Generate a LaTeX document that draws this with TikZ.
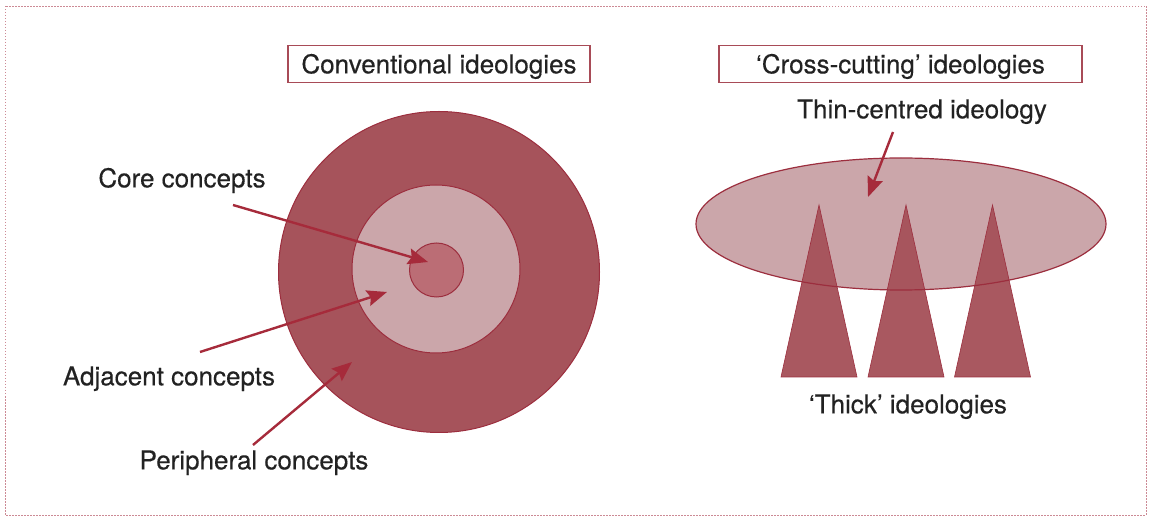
\documentclass[tikz,border=0pt]{standalone}
\usepackage{fontspec}
\setmainfont{TeX Gyre Heros}[FakeBold=0.35]
\usetikzlibrary{arrows.meta,shapes.geometric}
\definecolor{ringdark}{HTML}{A6535B}
\definecolor{ringlight}{HTML}{CBA6AA}
\definecolor{corefill}{HTML}{BB6D75}
\definecolor{edgered}{HTML}{9C2E3E}
\definecolor{arrowred}{HTML}{A62B3B}
\definecolor{boxedge}{HTML}{A84B57}
\definecolor{frameline}{HTML}{CC8A95}
\definecolor{textgrey}{HTML}{222222}
\begin{document}
\begin{tikzpicture}[x=1pt,y=-1pt,
  lbl/.style={font=\fontsize{26}{30}\selectfont, text=textgrey, inner sep=0pt,
              text height=18.7pt, text depth=0pt},
  titlebox/.style={lbl, draw=boxedge, line width=1.5pt, minimum height=37pt},
  disc/.style={circle, draw=edgered, line width=1pt, inner sep=0pt, outer sep=0pt},
  pointer/.style={draw=arrowred, line width=2.4pt,
                  -{Stealth[length=20pt,width=16pt,inset=3pt]}},
  thicktri/.style={fill=ringdark, draw=edgered, line width=0.6pt, fill opacity=0.97},
]
\useasboundingbox (0,0) rectangle (1152,518);
% frame
\draw[frameline, line width=0.9pt, dash pattern=on 1.5pt off 1.5pt] (5,6) rectangle (1146,515);

% ---------- left: conventional ideologies
\node[titlebox, minimum width=302pt] (conv) at (439,64) {Conventional ideologies};
\node[disc, fill=ringdark, minimum size=321pt] (peri) at (439,272) {};
\node[disc, fill=ringlight, minimum size=168pt] (adj) at (436,269) {};
\node[disc, fill=corefill, minimum size=54pt] (core) at (436.5,270) {};

\node[lbl] (corelbl) at (182,178) {Core concepts};
\node[lbl] (adjlbl) at (169,376) {Adjacent concepts};
\node[lbl] (perilbl) at (254,460) {Peripheral concepts};

\coordinate (coreS) at (233,205);
\coordinate (coreT) at (428,262);
\coordinate (adjS) at (200,352);
\coordinate (adjT) at (387,292);
\coordinate (periS) at (253,445);
\coordinate (periT) at (352,362);
\draw[pointer] (coreS) -- (coreT);
\draw[pointer] (adjS) -- (adjT);
\draw[pointer] (periS) -- (periT);

% ---------- right: cross-cutting ideologies
\node[titlebox, minimum width=363pt] (cross) at (900.5,64) {‘Cross-cutting’ ideologies};
\node[lbl] (thinlbl) at (922,109) {Thin-centred ideology};
\node[ellipse, fill=ringlight, inner sep=0pt, outer sep=0pt,
      minimum width=410pt, minimum height=132pt] (thin) at (901,224) {};
\fill[thicktri] (819,205) -- (857,377) -- (781,377) -- cycle;
\fill[thicktri] (906,205) -- (944,377) -- (868,377) -- cycle;
\fill[thicktri] (992.5,205) -- (1030.5,377) -- (954.5,377) -- cycle;
\draw[edgered, line width=1.2pt] (thin.center) ellipse [x radius=205, y radius=66];
\node[lbl] (thicklbl) at (908,404) {‘Thick’ ideologies};

\coordinate (thinS) at (893,132);
\coordinate (thinT) at (868,197);
\draw[pointer] (thinS) -- (thinT);
\end{tikzpicture}
\end{document}
